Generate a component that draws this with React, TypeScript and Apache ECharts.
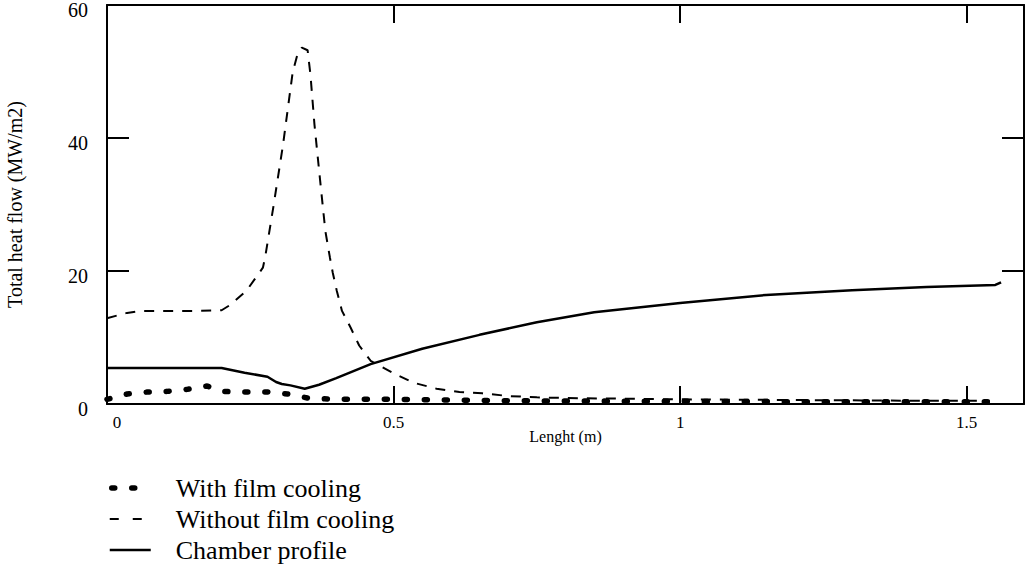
import React, { useEffect, useRef } from 'react';
import * as echarts from 'echarts';

const FONT = 'Liberation Serif';

const seriesNames = ['With film cooling', 'Without film cooling', 'Chamber profile'];

const filmX = [0, 0.035, 0.07, 0.105, 0.14, 0.175, 0.2, 0.24, 0.28, 0.315, 0.35, 0.4, 0.5, 0.6, 0.7, 0.8, 1.0, 1.2, 1.4, 1.54];
const filmY = [0.7, 1.5, 1.8, 1.9, 2.2, 2.7, 1.9, 1.8, 1.8, 1.5, 0.9, 0.7, 0.7, 0.6, 0.5, 0.45, 0.4, 0.35, 0.35, 0.35];

const noFilmX = [0, 0.035, 0.06, 0.1, 0.15, 0.2, 0.215, 0.244, 0.272, 0.276, 0.29, 0.307, 0.324, 0.333, 0.34, 0.35, 0.355, 0.362, 0.372, 0.381, 0.389, 0.394, 0.401, 0.41, 0.425, 0.44, 0.46, 0.5, 0.535, 0.575, 0.615, 0.655, 0.7, 0.75, 0.8, 0.9, 1.0, 1.2, 1.4, 1.54];
const noFilmY = [12.9, 13.7, 14.0, 14.0, 14.0, 14.1, 14.9, 17.1, 20.5, 22.1, 29.5, 38.9, 49.9, 52.8, 53.6, 53.2, 49.5, 42, 33.5, 26, 22, 19.7, 17, 14, 11.5, 8.8, 6.5, 4.6, 3.2, 2.3, 1.8, 1.6, 1.2, 1.0, 0.9, 0.8, 0.7, 0.6, 0.5, 0.5];

const chamberX = [0, 0.2, 0.24, 0.28, 0.295, 0.305, 0.32, 0.345, 0.37, 0.4, 0.46, 0.55, 0.65, 0.75, 0.85, 1.0, 1.15, 1.3, 1.43, 1.55, 1.56];
const chamberY = [5.4, 5.4, 4.7, 4.1, 3.3, 3.0, 2.8, 2.3, 2.9, 3.9, 6.0, 8.3, 10.4, 12.3, 13.8, 15.2, 16.4, 17.1, 17.6, 17.9, 18.3];

const xTicks = [0, 0.5, 1, 1.5];
const yTicks = [0, 20, 40, 60];

const zip = (xs: number[], ys: number[]) => xs.map((x, i) => [x, ys[i]]);

export default function App() {
  const ref = useRef<HTMLDivElement>(null);
  useEffect(() => {
    const chart = echarts.init(ref.current!, null, { renderer: 'svg' });
    const axisLine = { show: true, onZero: false, lineStyle: { color: '#000', width: 2 } };
    const dotted = { color: '#000', width: 5.5, type: [3, 17], cap: 'round' };
    const dashed = { color: '#000', width: 2, type: [10, 9] };
    const solid = { color: '#000', width: 2.5, type: 'solid' };
    chart.setOption({
      animation: false,
      backgroundColor: '#fff',
      textStyle: { fontFamily: FONT, color: '#000' },
      grid: { left: 107, right: 2, top: 5, bottom: 165, containLabel: false, outerBoundsMode: 'none' },
      xAxis: [
        {
          type: 'value', position: 'bottom', min: 0, max: 1.6, interval: 0.5,
          axisLine, splitLine: { show: false },
          axisTick: { inside: true, length: 18, lineStyle: { color: '#000', width: 2 } },
          axisLabel: {
            color: '#000', fontFamily: FONT, fontSize: 17, margin: 10,
            formatter: (v: number) => {
              if (!xTicks.includes(v)) return '';
              return v === 0 ? '{z|0}' : String(v);
            },
            rich: { z: { padding: [0, 0, 0, 20], fontFamily: FONT, fontSize: 17, color: '#000' } },
          },
          name: 'Lenght (m)', nameLocation: 'middle', nameGap: 24, nameMoveOverlap: false,
          nameTextStyle: { color: '#000', fontFamily: FONT, fontSize: 16 },
        },
        {
          type: 'value', position: 'top', min: 0, max: 1.6, interval: 0.5,
          axisLine, splitLine: { show: false },
          axisTick: { inside: true, length: 18, lineStyle: { color: '#000', width: 2 } },
          axisLabel: { show: false },
        },
      ],
      yAxis: [
        {
          type: 'value', position: 'left', min: 0, max: 60, interval: 20,
          axisLine, splitLine: { show: false },
          axisTick: { inside: true, length: 22, lineStyle: { color: '#000', width: 2 } },
          axisLabel: {
            color: '#000', fontFamily: FONT, fontSize: 20, margin: 19,
            verticalAlign: 'top', lineHeight: 10,
            formatter: (v: number) => (yTicks.includes(v) ? String(v) : ''),
          },
          name: 'Total heat flow (MW/m2)', nameLocation: 'middle', nameGap: 82, nameMoveOverlap: false,
          nameTextStyle: { color: '#000', fontFamily: FONT, fontSize: 20 },
        },
        {
          type: 'value', position: 'right', min: 0, max: 60, interval: 20,
          axisLine, splitLine: { show: false },
          axisTick: { inside: true, length: 22, lineStyle: { color: '#000', width: 2 } },
          axisLabel: { show: false },
        },
      ],
      legend: {
        orient: 'vertical', left: 107, top: 475, padding: 0, height: 100,
        itemWidth: 41, itemHeight: 10, itemGap: 5,
        itemStyle: { opacity: 0 },
        textStyle: { fontSize: 26, fontFamily: FONT, color: '#000', padding: [0, 0, 0, 20] },
        data: [
          { name: seriesNames[0], lineStyle: { ...dotted, dashOffset: 17.5 } },
          { name: seriesNames[1], lineStyle: { ...dashed, type: [9, 14] } },
          { name: seriesNames[2], lineStyle: { ...solid } },
        ],
      },
      series: [
        {
          name: seriesNames[0], type: 'line', symbol: 'none', data: zip(filmX, filmY),
          lineStyle: dotted, itemStyle: { color: '#000' },
        },
        {
          name: seriesNames[1], type: 'line', symbol: 'none', data: zip(noFilmX, noFilmY),
          lineStyle: dashed, itemStyle: { color: '#000' },
        },
        {
          name: seriesNames[2], type: 'line', symbol: 'none', data: zip(chamberX, chamberY),
          lineStyle: solid, itemStyle: { color: '#000' },
        },
      ],
    });
    return () => chart.dispose();
  }, []);
  return (
    <div
      ref={ref}
      style={{ position: 'fixed', left: 0, top: 0, width: 1026, height: 569, background: '#fff' }}
    />
  );
}
